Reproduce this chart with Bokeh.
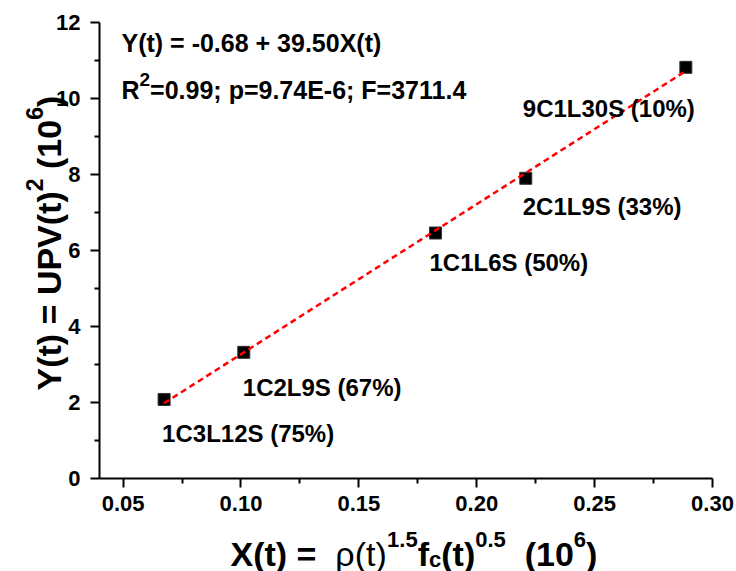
import math
from bokeh.plotting import figure
from bokeh.models import ColumnDataSource, FixedTicker, Label, PrintfTickFormatter, Range1d
from bokeh.embed import file_html
from bokeh.resources import INLINE
from bokeh.core.properties import value

# ---------------- data ----------------
sample_names = ["1C3L12S (75%)", "1C2L9S (67%)", "1C1L6S (50%)", "2C1L9S (33%)", "9C1L30S (10%)"]
x_vals = [0.0674, 0.1012, 0.1825, 0.2208, 0.2887]
y_vals = [2.08, 3.32, 6.46, 7.90, 10.82]
fit_intercept = -0.68
fit_slope = 39.50
x_major_ticks = [0.05, 0.10, 0.15, 0.20, 0.25, 0.30]
x_minor_ticks = [0.075, 0.125, 0.175, 0.225, 0.275]
y_major_ticks = [0, 2, 4, 6, 8, 10, 12]
y_minor_ticks = [1, 3, 5, 7, 9, 11]
x_bounds = (0.04, 0.30)
y_bounds = (0, 12)
eq_line1 = "Y(t) = -0.68 + 39.50X(t)"
eq_line2 = "=0.99; p=9.74E-6; F=3711.4"

# ---------------- style ----------------
FONT = "Liberation Sans"
W, H = 736, 571
AX_L, AX_R, AX_T, AX_B = 99, 712, 22, 478   # pixel extent of the axes box
label_dx = [-2, -1, -6, -3, 9]
label_dy = [34, 35, 29, 28, 41]
label_align = ["left", "left", "left", "left", "right"]

# full-canvas frame; ranges extended so that the axes box sits at AX_*
kx = (x_bounds[1] - x_bounds[0]) / (AX_R - AX_L)
ky = (y_bounds[1] - y_bounds[0]) / (AX_B - AX_T)
x_range = Range1d(x_bounds[0] - AX_L * kx, x_bounds[1] + (W - AX_R) * kx)
y_range = Range1d(y_bounds[0] - (H - AX_B) * ky, y_bounds[1] + AX_T * ky)

# Arial / Liberation Sans advance widths (em)
WB = {' ': .278, '(': .333, ')': .333, '=': .584, '-': .333, '+': .584, '.': .278, ';': .333,
      'X': .667, 'Y': .667, 'U': .722, 'P': .667, 'V': .667, 'R': .722, 'E': .667, 'F': .611,
      'p': .611, 't': .333, 'f': .333, 'c': .556, 'ρ': .611}
WN = dict(WB)
WN.update({'t': .278, 'ρ': .578, 'f': .278, 'c': .5, 'p': .556})
for d in "0123456789":
    WB[d] = .556
    WN[d] = .556


def tw(s, size, style):
    tab = WB if style == "bold" else WN
    return sum(tab.get(c, .556) for c in s) * size


p = figure(width=W, height=H, output_backend="svg", toolbar_location=None,
           x_range=x_range, y_range=y_range,
           min_border_left=0, min_border_right=0, min_border_top=0, min_border_bottom=0)
p.outline_line_color = None
p.xgrid.visible = False
p.ygrid.visible = False
p.background_fill_color = "white"
p.border_fill_color = "white"

p.xaxis[0].fixed_location = y_bounds[0]
p.yaxis[0].fixed_location = x_bounds[0]
p.xaxis[0].bounds = x_bounds
p.yaxis[0].bounds = y_bounds

for ax, maj, mn, fmt in ((p.xaxis[0], x_major_ticks, x_minor_ticks, "%.2f"),
                         (p.yaxis[0], y_major_ticks, y_minor_ticks, "%d")):
    ax.ticker = FixedTicker(ticks=maj, minor_ticks=mn)
    ax.formatter = PrintfTickFormatter(format=fmt)
    ax.axis_line_width = 2
    ax.major_tick_line_width = 2
    ax.minor_tick_line_width = 2
    ax.major_tick_out = 9
    ax.major_tick_in = 0
    ax.minor_tick_out = 5
    ax.minor_tick_in = 0
    ax.major_label_text_font = FONT
    ax.major_label_text_font_style = "bold"
    ax.major_label_text_font_size = "22px"
    ax.major_label_text_color = "black"
    ax.axis_line_color = "black"
    ax.major_tick_line_color = "black"
    ax.minor_tick_line_color = "black"
p.xaxis[0].major_label_standoff = 8
p.yaxis[0].major_label_standoff = 10

# points
src = ColumnDataSource(dict(x=x_vals, y=y_vals, name=sample_names,
                            dx=label_dx, dy=label_dy, align=label_align))
p.scatter("x", "y", source=src, marker="square", size=12, fill_color="black",
          line_color="#333333", line_width=1)

# fit line (from equation)
fx = [min(x_vals), max(x_vals)]
fy = [fit_intercept + fit_slope * v for v in fx]
p.line(fx, fy, line_color="#ff0000", line_width=2.5, line_dash="6 4")

p.text("x", "y", text="name", source=src, x_offset="dx", y_offset="dy",
       text_align="align", text_baseline="alphabetic", text_font=value(FONT),
       text_font_style="bold", text_font_size="24px", text_color="black")


def rich(img_x, img_y, parts, vertical=False):
    """Place rich text; img_x/img_y = baseline start in page pixels."""
    x0 = img_x
    y0 = H - img_y
    pos = 0.0
    for txt, size, style, rise in parts:
        stripped = txt.lstrip(' ')
        lead = tw(txt[:len(txt) - len(stripped)], size, style)
        s = stripped.rstrip(' ')
        if s:
            if vertical:
                lab = Label(x=x0 - rise, y=y0 + pos + lead, angle=math.pi / 2)
            else:
                lab = Label(x=x0 + pos + lead, y=y0 + rise)
            lab.x_units = "screen"
            lab.y_units = "screen"
            lab.text = s
            lab.text_font = FONT
            lab.text_font_style = style
            lab.text_font_size = f"{size}px"
            lab.text_baseline = "alphabetic"
            lab.text_align = "left"
            lab.text_color = "black"
            p.add_layout(lab)
        pos += tw(txt, size, style)


# equation annotation
rich(121, 42, [(eq_line1, 25, "bold", 0)])
rich(121, 89, [("R", 25, "bold", 0), ("2", 19, "bold", 10), (eq_line2, 25, "bold", 0)])

# x axis title
rich(230, 553, [("X(t) =  ", 34, "bold", 0), ("ρ(t)", 34, "normal", 0), ("1.5", 22, "bold", 14),
                ("f", 34, "bold", 0), ("c", 22, "bold", -6), ("(t)", 34, "bold", 0),
                ("0.5", 22, "bold", 14), ("  (10", 34, "bold", 0), ("6", 22, "bold", 14),
                (")", 34, "bold", 0)])

# y axis title (rotated)
rich(48, 390, [("Y(t) = UPV(t)", 34, "bold", 0), ("2", 23, "bold", 14), (" (10", 34, "bold", 0),
               ("6", 23, "bold", 14), (")", 34, "bold", 0)], vertical=True)

open("out.html", "w").write(file_html(p, INLINE))
